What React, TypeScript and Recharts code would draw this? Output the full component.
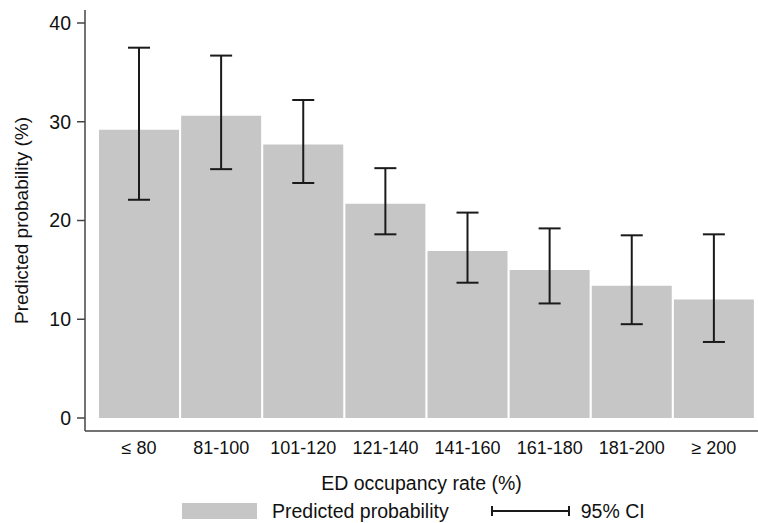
import { BarChart, Bar, XAxis, YAxis, ErrorBar, Legend } from 'recharts';

const FONT = '"Liberation Sans", Arial, Helvetica, sans-serif';
const BAR_FILL = '#c6c6c6';
const INK = '#1a1a1a';

const categories = ['≤ 80', '81-100', '101-120', '121-140', '141-160', '161-180', '181-200', '≥ 200'];
const predicted = [29.2, 30.6, 27.7, 21.7, 16.9, 15.0, 13.4, 12.0];
const ciLow = [22.1, 25.2, 23.8, 18.6, 13.7, 11.6, 9.5, 7.7];
const ciHigh = [37.5, 36.7, 32.2, 25.3, 20.8, 19.2, 18.5, 18.6];
const yTicks = [0, 10, 20, 30, 40];

// error bar offsets are [below, above] the bar value
const data = categories.map((name, i) => ({
  name,
  value: predicted[i],
  err: [predicted[i] - ciLow[i], ciHigh[i] - predicted[i]],
}));

const renderLegend = () => (
  <div
    style={{
      display: 'flex',
      alignItems: 'center',
      height: 24,
      paddingLeft: 182,
      fontSize: 19.5,
      fontFamily: FONT,
      color: '#111',
    }}
  >
    <div style={{ width: 75, height: 16, background: BAR_FILL }} />
    <span style={{ marginLeft: 15 }}>Predicted probability</span>
    <svg width={79} height={12} style={{ marginLeft: 42 }}>
      <line x1={1} y1={6} x2={78} y2={6} stroke={INK} strokeWidth={2} />
      <line x1={1} y1={1} x2={1} y2={11} stroke={INK} strokeWidth={2} />
      <line x1={78} y1={1} x2={78} y2={11} stroke={INK} strokeWidth={2} />
    </svg>
    <span style={{ marginLeft: 11 }}>95% CI</span>
  </div>
);

export default function App() {
  return (
    <div style={{ position: 'absolute', left: 0, top: 0, background: '#fff' }}>
      <BarChart
        width={758}
        height={523}
        data={data}
        margin={{ top: 10, right: 0, bottom: 0, left: 0 }}
        barCategoryGap={1}
      >
        <XAxis
          dataKey="name"
          height={68}
          padding={{ left: 13, right: 3 }}
          tickLine={false}
          tickSize={0}
          tickMargin={10}
          axisLine={{ stroke: '#444', strokeWidth: 1.5 }}
          tick={{ fill: '#111', fontSize: 18, fontFamily: FONT }}
          interval={0}
          label={{
            value: 'ED occupancy rate (%)',
            position: 'center',
            dy: 18,
            fill: '#111',
            fontSize: 19.5,
            fontFamily: FONT,
          }}
        />
        <YAxis
          width={85}
          domain={[0, 40]}
          ticks={yTicks}
          padding={{ top: 13, bottom: 13 }}
          tickSize={8}
          tickMargin={6}
          axisLine={{ stroke: '#444', strokeWidth: 1.5 }}
          tickLine={{ stroke: '#444', strokeWidth: 1.5 }}
          tick={{ fill: '#111', fontSize: 19.5, fontFamily: FONT }}
          label={{
            value: 'Predicted probability (%)',
            angle: -90,
            position: 'center',
            dx: -21,
            fill: '#111',
            fontSize: 19,
            fontFamily: FONT,
          }}
        />
        <Legend verticalAlign="bottom" content={renderLegend} wrapperStyle={{ left: 0, width: 758, bottom: 0 }} />
        <Bar dataKey="value" fill={BAR_FILL} isAnimationActive={false}>
          <ErrorBar dataKey="err" width={11} stroke={INK} strokeWidth={2} isAnimationActive={false} />
        </Bar>
      </BarChart>
    </div>
  );
}
